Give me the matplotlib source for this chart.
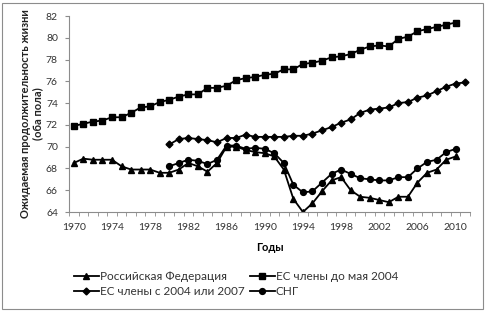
import matplotlib.pyplot as plt
from matplotlib.patches import Rectangle
import numpy as np

plt.rcParams['font.family'] = ['Lato', 'DejaVu Sans']

# Data
years_rf = list(range(1970, 2011))
russia = [68.5, 68.9, 68.8, 68.8, 68.8, 68.2, 67.9, 67.9, 67.9, 67.6,
          67.6, 67.9, 68.5, 68.2, 67.7, 68.5, 70.0, 70.0, 69.7, 69.5,
          69.4, 69.1, 67.9, 65.2, 64.0, 64.8, 65.9, 66.9, 67.2, 66.0,
          65.4, 65.3, 65.1, 64.9, 65.4, 65.4, 66.7, 67.6, 67.9, 68.8,
          69.1]

years_eu_old = list(range(1970, 2011))
eu_old = [71.9, 72.1, 72.3, 72.4, 72.7, 72.7, 73.1, 73.6, 73.7, 74.1,
          74.3, 74.6, 74.8, 74.8, 75.4, 75.4, 75.6, 76.1, 76.3, 76.4,
          76.6, 76.7, 77.1, 77.1, 77.6, 77.7, 77.9, 78.2, 78.3, 78.5,
          78.9, 79.2, 79.3, 79.2, 79.9, 80.1, 80.6, 80.8, 81.0, 81.2,
          81.4]

years_eu_new = list(range(1980, 2012))
eu_new = [70.2, 70.7, 70.8, 70.7, 70.6, 70.4, 70.8, 70.8, 71.1, 70.9,
          70.9, 70.9, 70.9, 71.0, 71.0, 71.2, 71.5, 71.8, 72.2, 72.5,
          73.1, 73.4, 73.5, 73.6, 74.0, 74.1, 74.5, 74.7, 75.1, 75.5,
          75.8, 75.9]

years_cis = list(range(1980, 2011))
cis = [68.2, 68.5, 68.8, 68.7, 68.4, 68.8, 70.1, 70.1, 69.8, 69.9,
       69.8, 69.4, 68.5, 66.5, 65.8, 65.9, 66.7, 67.5, 67.9, 67.5,
       67.1, 67.0, 66.9, 66.9, 67.2, 67.2, 68.0, 68.6, 68.8, 69.5,
       69.8]

fig = plt.figure(figsize=(4.88, 3.11), dpi=100)
ax = fig.add_axes([69 / 488, 1 - 212 / 311, 401 / 488, 196 / 311])

# Outer chart border
fig.patches.append(Rectangle((0.005, 0.008), 0.985, 0.983, transform=fig.transFigure,
                             fill=False, edgecolor='#8c8c8c', linewidth=0.8))

kw = dict(color='black', linewidth=1.3, markersize=4.2)
l_rf, = ax.plot(years_rf, russia, marker='^', **kw)
l_old, = ax.plot(years_eu_old, eu_old, marker='s', **kw)
l_new, = ax.plot(years_eu_new, eu_new, marker='D', markersize=3.5, color='black', linewidth=1.3)
l_cis, = ax.plot(years_cis, cis, marker='o', **kw)

ax.set_xlim(1969.5, 2011.5)
ax.set_ylim(64, 82)
ax.set_yticks(np.arange(64, 83, 2))
ax.set_xticks(np.arange(1970, 2011, 4))
ax.set_xticks(np.arange(1969.5, 2012, 1), minor=True)

for side in ['top', 'right']:
    ax.spines[side].set_visible(False)
for side in ['left', 'bottom']:
    ax.spines[side].set_color('#8c8c8c')
    ax.spines[side].set_linewidth(0.8)

ax.tick_params(axis='both', which='both', colors='#8c8c8c', labelcolor='#333333',
               labelsize=7.5, direction='out')
ax.tick_params(axis='x', which='major', length=0, pad=8)
ax.tick_params(axis='x', which='minor', length=3)
ax.tick_params(axis='y', length=3, pad=5)

ax.set_xlabel('Годы', fontsize=8, fontweight='bold', labelpad=7)
fig.text(32 / 488, 1 - 114 / 311, 'Ожидаемая продолжительность жизни\n(оба пола)',
         rotation=90, ha='center', va='center', fontsize=8, fontweight='bold',
         color='#222222', linespacing=1.15)

fig.legend([l_rf, l_new, l_old, l_cis],
           ['Российская Федерация', 'ЕС члены с 2004 или 2007',
            'ЕС члены до мая 2004', 'СНГ'],
           ncol=2, loc='center', bbox_to_anchor=(236 / 488, 1 - 284 / 311),
           frameon=False, fontsize=8.5, handlelength=2.1, handletextpad=0.1,
           columnspacing=0.45, labelspacing=0.4, labelcolor='#333333',
           borderpad=0.2)

fig.savefig('out.png', dpi=100)
